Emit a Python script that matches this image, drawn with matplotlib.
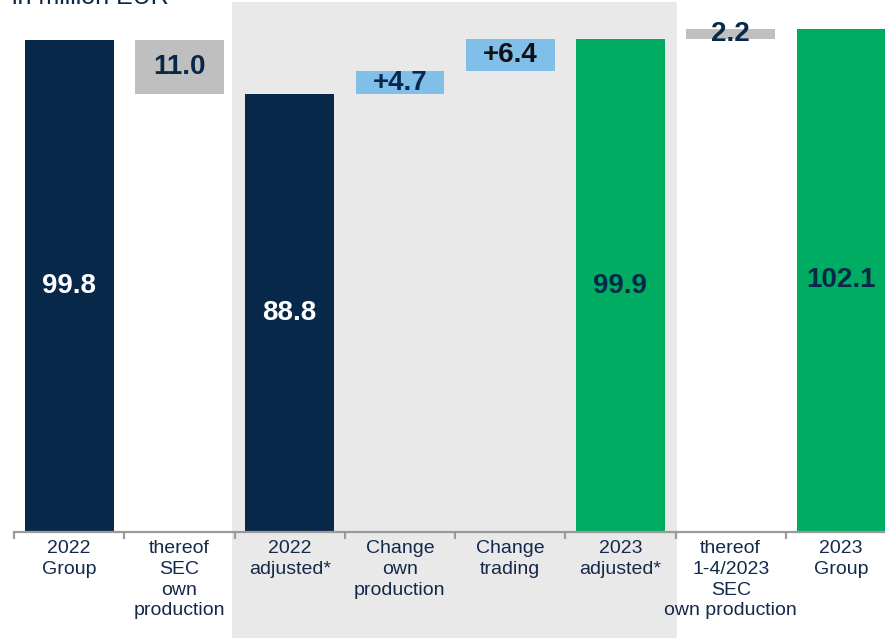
import numpy as np
import matplotlib.pyplot as plt

# Waterfall: Umsatz 2022 -> 2023 (in million EUR)
categories = ["2022\nGroup", "thereof\nSEC\nown\nproduction", "2022\nadjusted*",
              "Change\nown\nproduction", "Change\ntrading", "2023\nadjusted*",
              "thereof\n1-4/2023\nSEC\nown production", "2023\nGroup"]
values = [99.8, -11.0, 88.8, 4.7, 6.4, 99.9, 2.2, 102.1]
kinds = ["total", "step", "total", "step", "step", "total", "step", "total"]
labels = ["99.8", "11.0", "88.8", "+4.7", "+6.4", "99.9", "2.2", "102.1"]

navy = "#08284a"
grey = "#bfbfbf"
light_blue = "#7fbfea"
green = "#00ab62"
colors = [navy, grey, navy, light_blue, light_blue, green, grey, green]
text_colors = ["white", navy, "white", navy, "#111111", navy, navy, navy]

plt.rcParams['font.family'] = ['Liberation Sans', 'DejaVu Sans']

fig = plt.figure(figsize=(8.85, 6.38), dpi=100)
ax = fig.add_axes([14/885, 106/638, 871/885, 532/638])

# bottoms / heights of the waterfall
bottoms, heights = [], []
running = 0.0
for v, k in zip(values, kinds):
    if k == "total":
        bottoms.append(0.0)
        heights.append(v)
        running = v
    else:
        if v < 0:
            bottoms.append(running + v)
        else:
            bottoms.append(running)
        heights.append(abs(v))
        running += v

x = np.arange(len(values))
ax.bar(x, heights, bottom=bottoms, width=0.805, color=colors, zorder=3)

for xi, b, h, lab, tc in zip(x, bottoms, heights, labels, text_colors):
    ax.text(xi, b + h/2, lab, ha='center', va='center', fontsize=20,
            fontweight='bold', color=tc, zorder=4)

# grauer Hintergrund fuer den bereinigten Vergleich
ax.axvspan(1.48, 5.51, ymin=-106/532, ymax=530/532, color="#e9e9e9",
           clip_on=False, zorder=0, lw=0)

ax.set_xlim(-0.5, 7.4)
ax.set_ylim(0, 107.9)

for s in ["top", "right", "left"]:
    ax.spines[s].set_visible(False)
ax.spines["bottom"].set_color("#9a9a9a")
ax.spines["bottom"].set_linewidth(1.6)
ax.spines["bottom"].set_zorder(5)
ax.set_yticks([])

ax.set_xticks(x)
ax.set_xticklabels(categories, fontsize=14, color="#14294a", linespacing=1.28, va='top')
ax.tick_params(axis='x', which='major', length=0, pad=6)
ax.set_xticks(np.arange(-0.5, 7.0, 1.0), minor=True)
ax.tick_params(axis='x', which='minor', length=5, width=1.6, color="#9a9a9a", direction='out')

fig.text(12/885, 1 - 4.5/638, "in million EUR", fontsize=18, color=navy,
         ha='left', va='baseline')

fig.savefig("out.png", dpi=100)
